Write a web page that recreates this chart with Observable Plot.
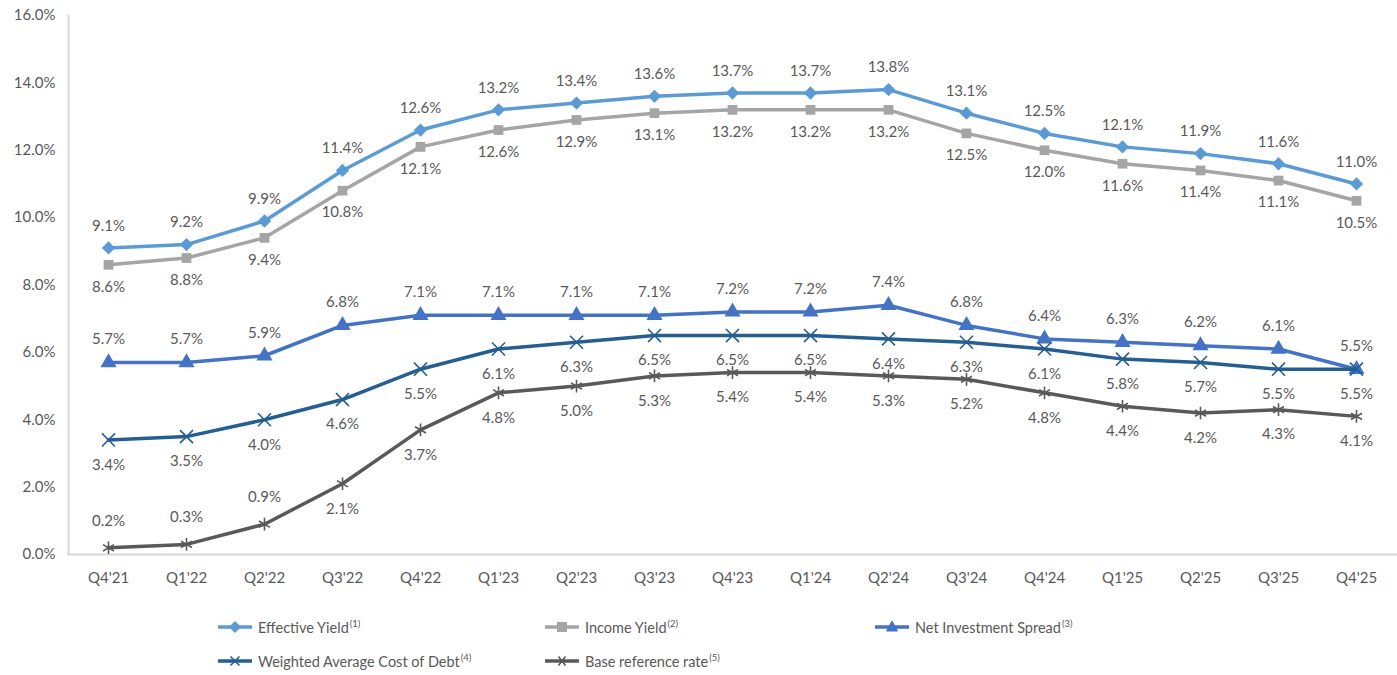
<!DOCTYPE html>
<html>
<head>
<meta charset="utf-8">
<script src="https://cdn.jsdelivr.net/npm/d3@7"></script>
<script src="https://cdn.jsdelivr.net/npm/@observablehq/plot@0.6"></script>
<style>
  body { margin: 0; background: #fff; font-family: Lato, "Open Sans", sans-serif; }
  #wrap { position: relative; width: 1397px; height: 675px; }
  .leg { position: absolute; display: flex; align-items: center; font-size: 14.5px; color: #595959; white-space: nowrap; }
  .leg svg { margin-right: 4px; }
  .leg sup { font-size: 9.5px; vertical-align: 6px; margin-left: 1px; }
</style>
</head>
<body>
<div id="wrap"></div>
<script>
const quarters = ["Q4'21","Q1'22","Q2'22","Q3'22","Q4'22","Q1'23","Q2'23","Q3'23","Q4'23","Q1'24","Q2'24","Q3'24","Q4'24","Q1'25","Q2'25","Q3'25","Q4'25"];
const effectiveYield = [9.1,9.2,9.9,11.4,12.6,13.2,13.4,13.6,13.7,13.7,13.8,13.1,12.5,12.1,11.9,11.6,11.0];
const incomeYield = [8.6,8.8,9.4,10.8,12.1,12.6,12.9,13.1,13.2,13.2,13.2,12.5,12.0,11.6,11.4,11.1,10.5];
const netInvestmentSpread = [5.7,5.7,5.9,6.8,7.1,7.1,7.1,7.1,7.2,7.2,7.4,6.8,6.4,6.3,6.2,6.1,5.5];
const costOfDebt = [3.4,3.5,4.0,4.6,5.5,6.1,6.3,6.5,6.5,6.5,6.4,6.3,6.1,5.8,5.7,5.5,5.5];
const baseRate = [0.2,0.3,0.9,2.1,3.7,4.8,5.0,5.3,5.4,5.4,5.3,5.2,4.8,4.4,4.2,4.3,4.1];
const yTicks = [0,2,4,6,8,10,12,14,16];

const series = [
  {key: "Effective Yield", note: "(1)", values: effectiveYield, color: "#5b9bd5", symbol: "diamond2", r: 6, label: () => -22},
  {key: "Income Yield", note: "(2)", values: incomeYield, color: "#a5a5a5", symbol: "square", r: 5.5, label: () => 22},
  {key: "Net Investment Spread", note: "(3)", values: netInvestmentSpread, color: "#4472c4", symbol: "triangle", r: 6, label: () => -23},
  {key: "Weighted Average Cost of Debt", note: "(4)", values: costOfDebt, color: "#255e91", symbol: "times", r: 6, label: () => 25},
  {key: "Base reference rate", note: "(5)", values: baseRate, color: "#595959", symbol: "asterisk", r: 6, label: (i) => i < 3 ? -27 : 25}
];

const FS = 15;
const marks = [
  Plot.axisY({ticks: yTicks, tickSize: 0, tickPadding: 13, tickFormat: d => d.toFixed(1) + "%", fontSize: FS, fill: "#595959"}),
  Plot.axisX({tickSize: 0, tickPadding: 18, fontSize: FS, fill: "#595959"})
];
for (const s of series) {
  const data = quarters.map((q, i) => ({q, v: s.values[i], i}));
  marks.push(Plot.line(data, {x: "q", y: "v", stroke: s.color, strokeWidth: 3.5}));
  marks.push(Plot.dot(data, {x: "q", y: "v", symbol: () => s.symbol, r: s.r, fill: s.color, stroke: s.color,
    strokeWidth: (s.symbol === "times" || s.symbol === "asterisk") ? 1.6 : 0}));
  const above = data.filter(d => s.label(d.i) < 0);
  const below = data.filter(d => s.label(d.i) > 0);
  for (const [arr, dy] of [[above, s.label(0) < 0 ? s.label(0) : -27], [below, s.label(16) > 0 ? s.label(16) : 22]]) {
    if (arr.length) marks.push(Plot.text(arr, {x: "q", y: "v", text: d => d.v.toFixed(1) + "%", dy, fontSize: FS, fill: "#595959"}));
  }
}

const chart = Plot.plot({
  width: 1397,
  height: 600,
  marginLeft: 68,
  marginRight: 1,
  marginTop: 15,
  marginBottom: 46,
  style: {fontFamily: "Lato, 'Open Sans', sans-serif", background: "#fff"},
  x: {type: "point", domain: quarters, padding: 0.5, label: null},
  y: {domain: [0, 16], label: null},
  marks: [
    Plot.frame({anchor: "left", stroke: "#d9d9d9", strokeWidth: 2}),
    Plot.frame({anchor: "bottom", stroke: "#d9d9d9", strokeWidth: 2}),
    ...marks
  ]
});
const wrap = document.getElementById("wrap");
wrap.appendChild(chart);

const symPaths = {
  diamond2: '<path d="M17,-5.5 L22.5,0 L17,5.5 L11.5,0Z" />',
  square: '<rect x="12.5" y="-4.5" width="9" height="9" />',
  triangle: '<path d="M17,-6 L22.5,4 L11.5,4Z" />',
  times: '<path d="M12.5,-4.5 L21.5,4.5 M12.5,4.5 L21.5,-4.5" fill="none" stroke-width="1.6"/>',
  asterisk: '<path d="M12,0 L22,0 M13.5,-4.5 L20.5,4.5 M13.5,4.5 L20.5,-4.5" fill="none" stroke-width="1.6"/>'
};
const legendPos = [[218, 627], [545, 627], [875, 627], [218, 661], [545, 661]];
series.forEach((s, k) => {
  const div = document.createElement("div");
  div.className = "leg";
  div.style.left = legendPos[k][0] + "px";
  div.style.top = (legendPos[k][1] - 10) + "px";
  div.style.height = "20px";
  div.innerHTML = `<svg width="36" height="14" viewBox="0 -7 36 14"><g fill="${s.color}" stroke="${s.color}"><line x1="0" x2="34" y1="0" y2="0" stroke-width="3.5"/>${symPaths[s.symbol]}</g></svg><span>${s.key}<sup>${s.note}</sup></span>`;
  wrap.appendChild(div);
});
</script>
</body>
</html>
